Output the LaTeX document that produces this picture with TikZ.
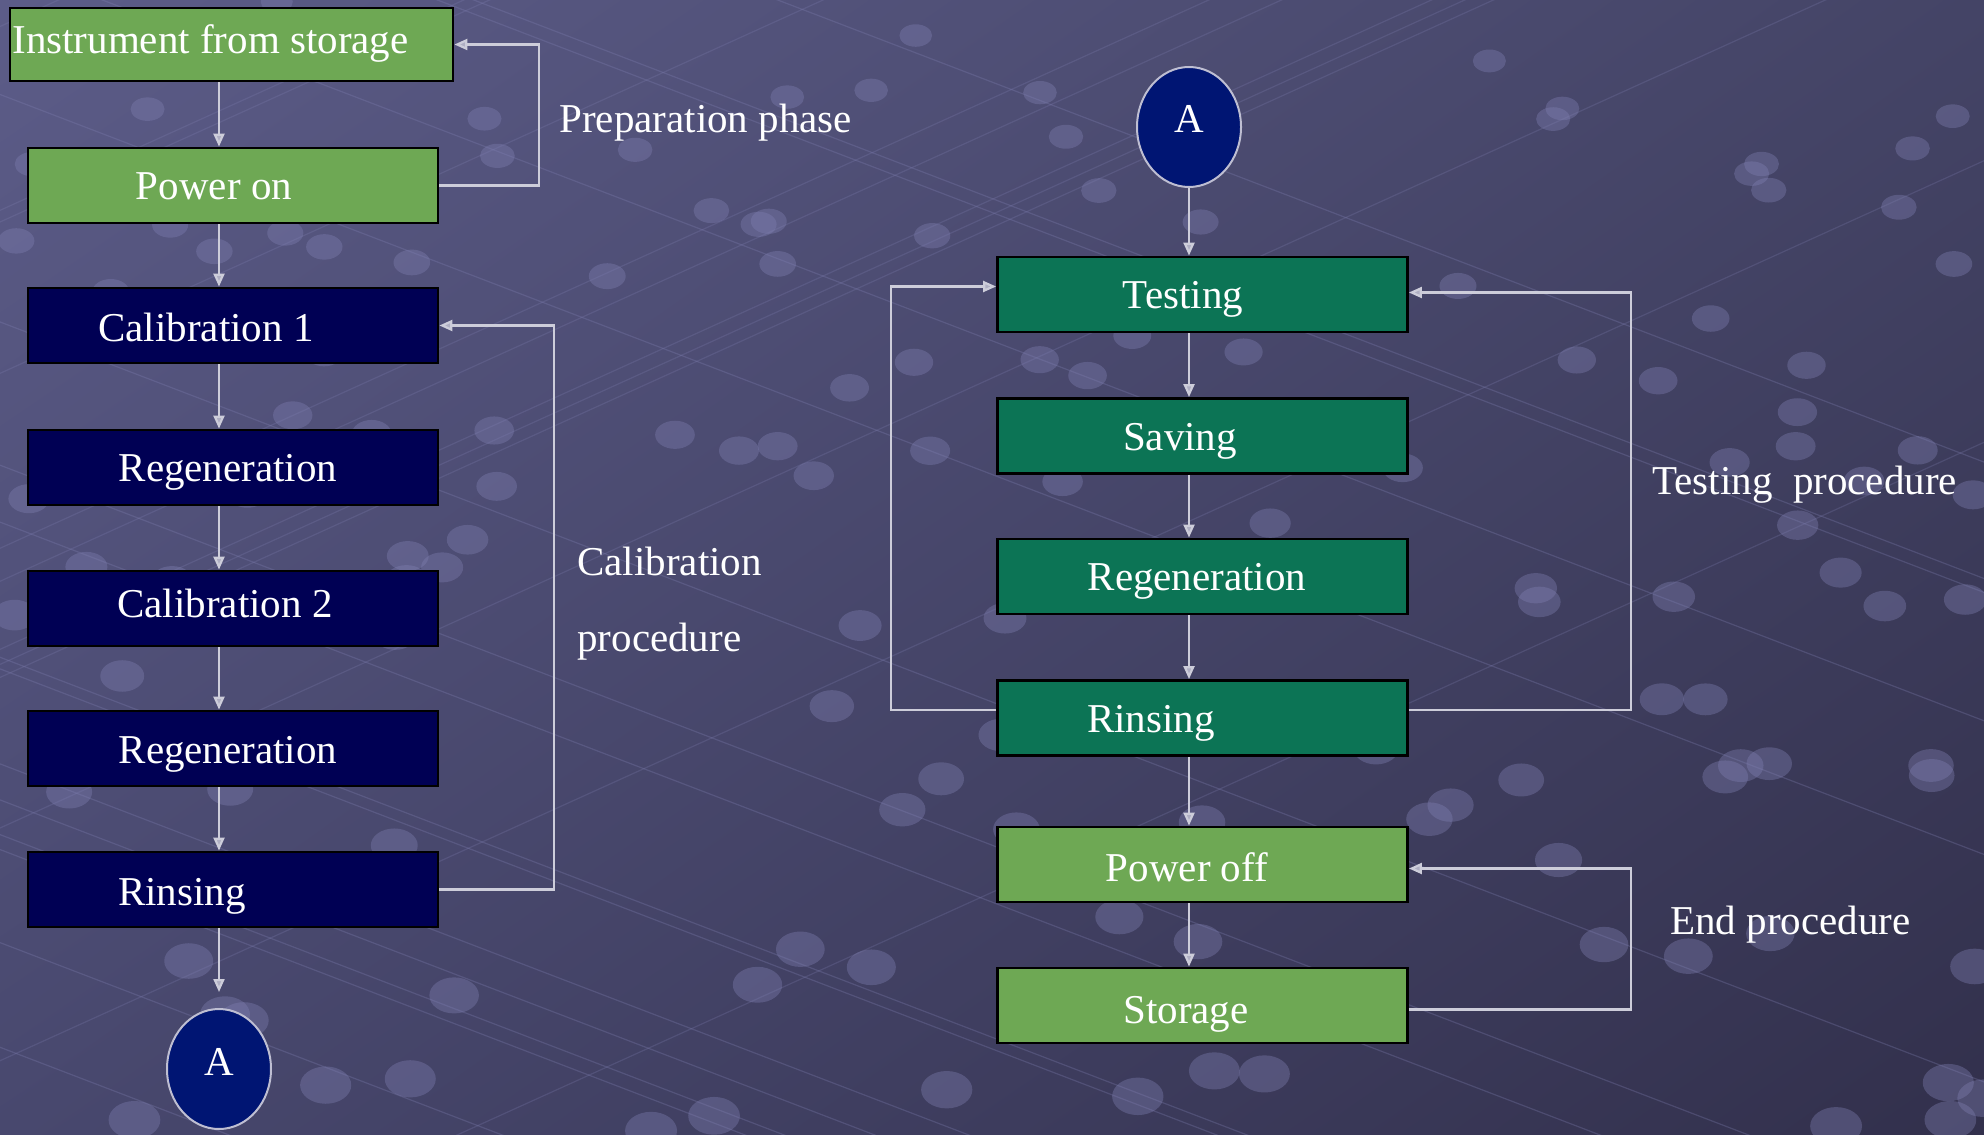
\documentclass[tikz,border=0pt]{standalone}
\usepackage{fontspec}
\setmainfont{Liberation Serif}
\usetikzlibrary{arrows.meta,calc,shapes.geometric,shadings}
\definecolor{lgreen}{RGB}{110,168,84}
\definecolor{navybox}{RGB}{0,0,84}
\definecolor{tealbox}{RGB}{12,116,85}
\definecolor{circfill}{RGB}{0,21,115}
\definecolor{conncol}{RGB}{205,205,218}
\definecolor{circline}{RGB}{190,190,210}
\definecolor{tipcol}{RGB}{175,175,195}
\definecolor{dotc}{RGB}{128,128,178}
\definecolor{bgUL}{RGB}{92,92,136}
\definecolor{bgUR}{RGB}{68,68,102}
\definecolor{bgLL}{RGB}{72,72,110}
\definecolor{bgLR}{RGB}{50,48,76}
\tikzset{
  box/.style={draw=black, line width=1.4pt, minimum width=205pt, minimum height=37.5pt, inner sep=0pt},
  lbl/.style={text=white, font=\fontsize{20.5}{24}\selectfont, inner sep=0pt, text height=13.5pt, text depth=0pt},
  conn/.style={draw=conncol, line width=1.1pt},
  arr/.style={conn, -{Triangle[length=6.5pt,width=5.5pt,fill=tipcol]}},
  circ/.style={ellipse, draw=circline, line width=1pt, fill=circfill, minimum width=52pt, minimum height=60pt, inner sep=0pt},
}
\begin{document}
\begin{tikzpicture}[x=0.5pt,y=-0.5pt]
\useasboundingbox (0,0) rectangle (1984,1134);
% background
\shade[upper left=bgUL, upper right=bgUR, lower left=bgLL, lower right=bgLR] (0pt,0pt) rectangle (992pt,-567pt);
\begin{scope}
\clip (0,0) rectangle (1984,1134);
\pgfmathsetseed{42}
\foreach \i in {1,...,16}{
  \pgfmathsetmacro{\ya}{rnd*1500-400}
  \draw[dotc, opacity=0.3, line width=0.6pt] (0,\ya) -- (1984,\ya+760);
}
\foreach \i in {1,...,12}{
  \pgfmathsetmacro{\ya}{rnd*1500}
  \draw[dotc, opacity=0.25, line width=0.6pt] (0,\ya) -- (1984,\ya-900);
}
\foreach \i in {1,...,150}{
  \pgfmathsetmacro{\dx}{rnd*1984}
  \pgfmathsetmacro{\dy}{rnd*1134}
  \pgfmathsetmacro{\rx}{8+5*\dy/1134}
  \pgfmathsetmacro{\ry}{5.5+4*\dy/1134}
  \fill[dotc, opacity=0.38] (\dx,\dy) ellipse [x radius=\rx pt, y radius=\ry pt];
}
\end{scope}
% left column
\node[box, fill=lgreen, minimum width=221.5pt, minimum height=36.5pt] (inst) at (231.5,44.5) {};
\node[box, fill=lgreen] (pon) at (233,185.5) {};
\node[box, fill=navybox] (cal1) at (233,325.5) {};
\node[box, fill=navybox] (reg1) at (233,467.5) {};
\node[box, fill=navybox] (cal2) at (233,608.5) {};
\node[box, fill=navybox] (reg2) at (233,748.5) {};
\node[box, fill=navybox] (rin1) at (233,889.5) {};
\node[circ] (A1) at (219,1069) {};
% right column
\node[circ] (A2) at (1189,127) {};
\node[box, fill=tealbox] (test) at (1202.5,294.5) {};
\node[box, fill=tealbox] (sav) at (1202.5,436) {};
\node[box, fill=tealbox] (reg3) at (1202.5,576.5) {};
\node[box, fill=tealbox] (rin2) at (1202.5,718) {};
\node[box, fill=lgreen] (poff) at (1202.5,864.5) {};
\node[box, fill=lgreen] (stor) at (1202.5,1005.5) {};
% box texts
\node[lbl, anchor=west] (tinst) at (12,40.5) {Instrument from storage};
\node[lbl] (tpon) at (214,186) {Power on};
\node[lbl] (tcal1) at (206,328) {Calibration 1};
\node[lbl] (treg1) at (228,468) {Regeneration};
\node[lbl] (tcal2) at (225,604) {Calibration 2};
\node[lbl] (treg2) at (228,750) {Regeneration};
\node[lbl] (trin1) at (182,892) {Rinsing};
\node[lbl] (tA1) at (219,1062) {A};
\node[lbl] (tA2) at (1189,119) {A};
\node[lbl] (ttest) at (1183,295) {Testing};
\node[lbl] (tsav) at (1180,436.5) {Saving};
\node[lbl] (treg3) at (1197,577) {Regeneration};
\node[lbl] (trin2) at (1151,719) {Rinsing};
\node[lbl] (tpoff) at (1187,868) {Power off};
\node[lbl] (tstor) at (1186,1010) {Storage};
% side labels
\node[lbl, anchor=west] (lprep) at (559,119) {Preparation phase};
\node[lbl, anchor=west] (lcal1) at (577,562) {Calibration};
\node[lbl, anchor=west] (lcal2) at (577,638) {procedure};
\node[lbl, anchor=west] (ltest) at (1652,481) {Testing\ \ procedure};
\node[lbl, anchor=west] (lend) at (1670,921) {End procedure};
% vertical connectors left
\draw[arr] (inst.south -| A1.center) -- (pon.north -| A1.center);
\draw[arr] (pon.south -| A1.center) -- (cal1.north -| A1.center);
\draw[arr] (cal1.south -| A1.center) -- (reg1.north -| A1.center);
\draw[arr] (reg1.south -| A1.center) -- (cal2.north -| A1.center);
\draw[arr] (cal2.south -| A1.center) -- (reg2.north -| A1.center);
\draw[arr] (reg2.south -| A1.center) -- (rin1.north -| A1.center);
\draw[arr, shorten >=8pt] (rin1.south -| A1.center) -- (A1.north);
% vertical connectors right
\draw[arr] (A2.south) -- (test.north -| A2.center);
\draw[arr] (test.south -| A2.center) -- (sav.north -| A2.center);
\draw[arr] (sav.south -| A2.center) -- (reg3.north -| A2.center);
\draw[arr] (reg3.south -| A2.center) -- (rin2.north -| A2.center);
\draw[arr] (rin2.south -| A2.center) -- (poff.north -| A2.center);
\draw[arr] (poff.south -| A2.center) -- (stor.north -| A2.center);
% loops
\coordinate (prepx) at (539,0);
\coordinate (calx) at (554,0);
\coordinate (testlx) at (891,0);
\coordinate (testrx) at (1631,0);
\draw[arr] (pon.east) -- (pon.east -| prepx) -- (inst.east -| prepx) -- (inst.east);
\draw[arr] (rin1.east) -- (rin1.east -| calx) -- (cal1.east -| calx) -- (cal1.east);
\draw[arr] ([yshift=4pt]rin2.west) -- ([yshift=4pt]rin2.west -| testlx) -- ([yshift=4pt]test.west -| testlx) -- ([yshift=4pt]test.west);
\draw[arr] ([yshift=4pt]rin2.east) -- ([yshift=4pt]rin2.east -| testrx) -- ([yshift=1pt]test.east -| testrx) -- ([yshift=1pt]test.east);
\draw[arr] ([yshift=-2pt]stor.east) -- ([yshift=-2pt]stor.east -| testrx) -- ([yshift=-2pt]poff.east -| testrx) -- ([yshift=-2pt]poff.east);
\end{tikzpicture}
\end{document}
